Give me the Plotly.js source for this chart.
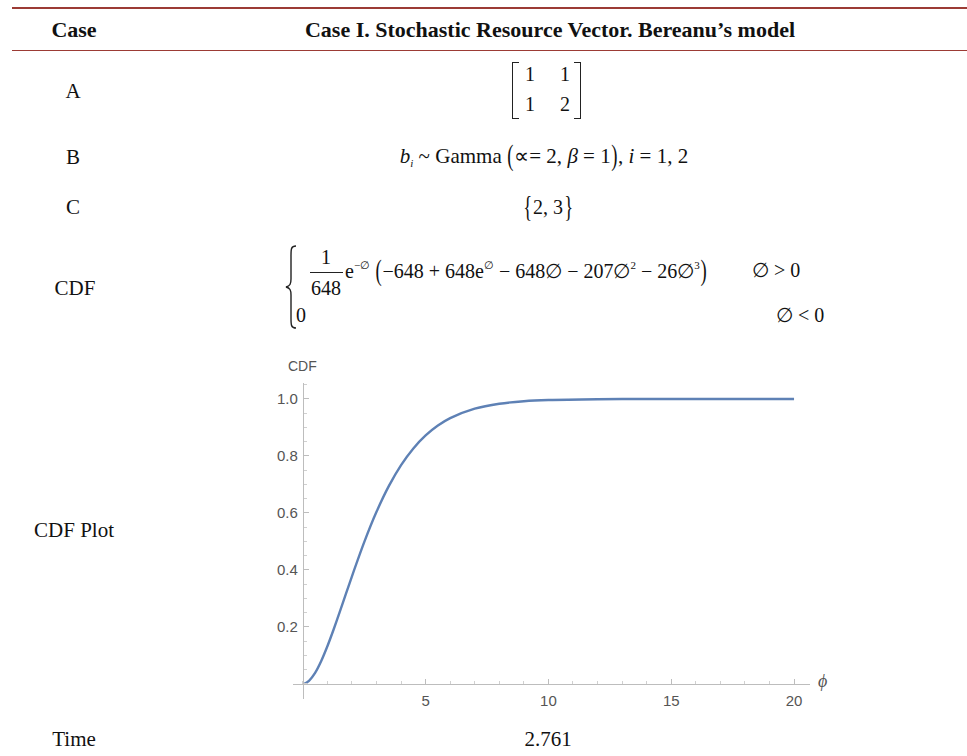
<!DOCTYPE html>
<html>
<head>
<meta charset="utf-8">
<script src="https://cdn.plot.ly/plotly-3.0.1.min.js"></script>
<style>
  html, body { margin: 0; padding: 0; background: #fff; }
  #page { position: relative; width: 967px; height: 756px; overflow: hidden;
          font-family: "Liberation Serif", "Times New Roman", serif; color: #111; }
  #plot { position: absolute; left: 0; top: 0; width: 967px; height: 756px; }
  .c { position: absolute; transform: translate(-50%, -50%); white-space: nowrap; font-size: 21px; }
  .l { position: absolute; transform: translate(0, -50%); white-space: nowrap; font-size: 21px; }
  .hd { font-weight: bold; font-size: 22px; }
  .rule { position: absolute; left: 12px; right: 0; background: #9c3b35; }
  .big { display: inline-block; transform: scale(0.85, 1.35); font-size: 22px; }
  .brk { position: absolute; width: 6px; border: 1.3px solid #222; }
  .brk.lft { border-right: none; }
  .brk.rgt { border-left: none; }
  sup { font-size: 11px; vertical-align: 9px; }
  sub { font-size: 11px; vertical-align: -4px; }
</style>
</head>
<body>
<div id="page">
  <div id="plot"></div>

  <!-- header -->
  <div class="rule" style="top:7px;height:2px;"></div>
  <div class="rule" style="top:50px;height:1.4px;"></div>
  <div class="c hd" style="left:74px;top:30px;">Case</div>
  <div class="c hd" style="left:550px;top:30px;">Case I. Stochastic Resource Vector. Bereanu’s model</div>

  <!-- row A -->
  <div class="c" style="left:73px;top:91px;">A</div>
  <div class="brk lft" style="left:512px;top:62px;height:55px;"></div>
  <div class="brk rgt" style="left:574px;top:62px;height:55px;"></div>
  <div class="c" style="left:530px;top:74px;font-size:20px;">1</div>
  <div class="c" style="left:565px;top:74px;font-size:20px;">1</div>
  <div class="c" style="left:530px;top:104px;font-size:20px;">1</div>
  <div class="c" style="left:565px;top:104px;font-size:20px;">2</div>

  <!-- row B -->
  <div class="c" style="left:544px;top:156px;font-size:21px;"><i>b</i><sub><i>i</i></sub> ~ Gamma <span class="big">(</span>∝= 2, <i>β</i> = 1<span class="big">)</span>, <i>i</i> = 1, 2</div>
  <div class="c" style="left:73px;top:157px;">B</div>

  <!-- row C -->
  <div class="c" style="left:73px;top:207px;">C</div>
  <div class="c" style="left:548px;top:207px;font-size:20px;"><span class="big">{</span>2, 3<span class="big">}</span></div>

  <!-- row CDF -->
  <div class="c" style="left:75px;top:288px;">CDF</div>
  <svg style="position:absolute;left:284px;top:244px;" width="16" height="88">
    <path d="M12,2 C7,2 7,5 7,12 L7,35 C7,40 6,42 2,43 C6,44 7,46 7,51 L7,74 C7,81 7,84 12,84"
          fill="none" stroke="#222" stroke-width="1.4"/>
  </svg>
  <div class="c" style="left:326px;top:257px;font-size:20px;">1</div>
  <div style="position:absolute;left:310px;top:272px;width:33px;height:1.3px;background:#222;"></div>
  <div class="c" style="left:326px;top:288px;font-size:20px;">648</div>
  <div class="l" style="left:345px;top:271px;font-size:20px;">e<sup>−∅</sup> <span class="big">(</span>−648 + 648e<sup>∅</sup> − 648∅ − 207∅<sup>2</sup> − 26∅<sup>3</sup><span class="big">)</span></div>
  <div class="l" style="left:752px;top:270px;font-size:20px;">∅ &gt; 0</div>
  <div class="l" style="left:296px;top:315px;font-size:20px;">0</div>
  <div class="l" style="left:776px;top:315px;font-size:20px;">∅ &lt; 0</div>

  <!-- row CDF Plot -->
  <div class="c" style="left:74px;top:530px;">CDF Plot</div>

  <!-- row Time -->
  <div class="c" style="left:74px;top:739px;">Time</div>
  <div class="c" style="left:548px;top:739px;">2.761</div>
</div>

<script>
// Cumulative distribution of the optimum value, sampled along phi
const phi = [0, 0.1, 0.25, 0.5, 0.75, 1, 1.25, 1.5, 1.75, 2, 2.5, 3, 3.5, 4, 4.5,
             5, 5.5, 6, 7, 8, 9, 10, 12, 14, 16, 18, 20];
const cdf = [0, 0.0018, 0.0105, 0.0387, 0.0805, 0.132, 0.19, 0.2516, 0.3148, 0.3776,
             0.4974, 0.6038, 0.694, 0.7678, 0.8264, 0.872, 0.9067, 0.9327, 0.9659,
             0.9832, 0.992, 0.9962, 0.9992, 0.9998, 1.0, 1.0, 1.0];

const xTickVals = [5, 10, 15, 20];
const xTickText = ['5', '10', '15', '20'];
const yTickVals = [0.2, 0.4, 0.6, 0.8, 1.0];
const yTickText = ['0.2', '0.4', '0.6', '0.8', '1.0'];

const xRange = [-0.4, 20.65];
const yRange = [-0.053, 1.056];

// axes cross at the origin
const xAxisPos = (0 - yRange[0]) / (yRange[1] - yRange[0]);
const yAxisPos = (0 - xRange[0]) / (xRange[1] - xRange[0]);

const axisColor = '#bdbdbd';
const tickFont = { family: 'Liberation Sans, Arial, sans-serif', size: 15, color: '#555' };

const trace = {
  x: phi, y: cdf, type: 'scatter', mode: 'lines',
  line: { color: '#5e81b5', width: 2.4, shape: 'spline', smoothing: 0.8 },
  hoverinfo: 'skip'
};

const layout = {
  width: 967, height: 756,
  margin: { l: 293, r: 157, t: 383, b: 57 },
  paper_bgcolor: 'rgba(0,0,0,0)', plot_bgcolor: 'rgba(0,0,0,0)',
  showlegend: false,
  xaxis: {
    range: xRange, anchor: 'free', position: xAxisPos,
    showgrid: false, zeroline: false, showline: true, linecolor: axisColor, linewidth: 1,
    tickmode: 'array', tickvals: xTickVals, ticktext: xTickText,
    ticks: 'inside', ticklen: 5, tickcolor: axisColor, tickfont: tickFont,
    ticklabelstandoff: 3,
    minor: { dtick: 1, tick0: 0, ticks: 'inside', ticklen: 3, tickcolor: '#d0d0d0' }
  },
  yaxis: {
    range: yRange, anchor: 'free', position: yAxisPos,
    showgrid: false, zeroline: false, showline: true, linecolor: axisColor, linewidth: 1,
    tickmode: 'array', tickvals: yTickVals, ticktext: yTickText,
    ticks: 'inside', ticklen: 5, tickcolor: axisColor, tickfont: tickFont,
    ticklabelstandoff: 2,
    minor: { dtick: 0.05, tick0: 0, ticks: 'inside', ticklen: 3, tickcolor: '#d0d0d0' }
  },
  annotations: [
    { text: 'CDF', xref: 'x', yref: 'paper', x: 0, y: 1, yshift: 17,
      showarrow: false, xanchor: 'center', yanchor: 'middle',
      font: { family: 'Liberation Sans, Arial, sans-serif', size: 14, color: '#555' } },
    { text: '<i>ϕ</i>', xref: 'paper', yref: 'y', x: 1, y: 0, xshift: 12, yshift: 3,
      showarrow: false, xanchor: 'center', yanchor: 'middle',
      font: { family: 'Liberation Serif, serif', size: 18, color: '#555' } }
  ]
};

Plotly.newPlot('plot', [trace], layout, { staticPlot: true, displayModeBar: false });
</script>
</body>
</html>
